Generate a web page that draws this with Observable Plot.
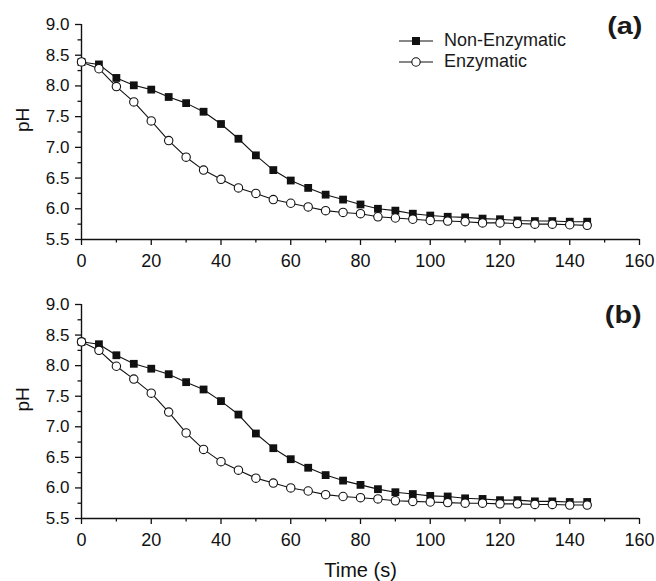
<!DOCTYPE html>
<html>
<head>
<meta charset="utf-8">
<script src="https://cdn.jsdelivr.net/npm/d3@7"></script>
<script src="https://cdn.jsdelivr.net/npm/@observablehq/plot@0.6"></script>
<style>
  body { margin: 0; background: #fff; }
  #wrap { position: relative; width: 656px; font-family: "Liberation Sans", Arial, sans-serif; color: #1a1a1a; }
  .panel { position: relative; }
  .panel svg { display: block; }
  .tag { position: absolute; font-weight: bold; font-size: 24px; right: 14px; transform: scaleX(1.2); transform-origin: right center; line-height: 1; }
  .legend { position: absolute; left: 399px; top: 30px; font-size: 18px; }
  .legend div { display: flex; align-items: center; height: 21px; }
  .legend svg { margin-right: 11px; }
</style>
</head>
<body>
<div id="wrap"></div>
<script>
const time = [0,5,10,15,20,25,30,35,40,45,50,55,60,65,70,75,80,85,90,95,100,105,110,115,120,125,130,135,140,145];

const phA_nonEnz = [8.39,8.35,8.13,8.01,7.94,7.82,7.72,7.58,7.38,7.14,6.87,6.63,6.46,6.34,6.23,
                    6.15,6.07,6.00,5.97,5.92,5.89,5.87,5.86,5.84,5.83,5.81,5.80,5.80,5.79,5.79];
const phA_enz    = [8.39,8.28,7.99,7.74,7.43,7.11,6.84,6.63,6.48,6.34,6.25,6.15,6.09,6.03,5.97,
                    5.94,5.92,5.87,5.85,5.83,5.81,5.80,5.79,5.77,5.77,5.76,5.75,5.75,5.74,5.73];
const phB_nonEnz = [8.39,8.35,8.17,8.03,7.95,7.86,7.73,7.61,7.42,7.20,6.89,6.65,6.47,6.33,6.21,
                    6.12,6.05,5.98,5.93,5.90,5.87,5.86,5.83,5.82,5.80,5.80,5.78,5.78,5.77,5.77];
const phB_enz    = [8.39,8.25,7.99,7.78,7.55,7.24,6.90,6.63,6.43,6.29,6.16,6.08,6.00,5.95,5.89,
                    5.86,5.84,5.82,5.79,5.78,5.77,5.76,5.75,5.75,5.74,5.74,5.73,5.73,5.72,5.72];

const seriesNames = ["Non-Enzymatic", "Enzymatic"];
const panelTags = ["(a)", "(b)"];
const yLabel = "pH";
const xLabel = "Time (s)";
const yMajor = [5.5,6.0,6.5,7.0,7.5,8.0,8.5,9.0];
const yMinor = [5.75,6.25,6.75,7.25,7.75,8.25,8.75];
const xMajor = [0,20,40,60,80,100,120,140,160];
const xMinor = [10,30,50,70,90,110,130,150];

const INK = "#111";

function panel(nonEnz, enz, cfg) {
  const rows = time.map((t, i) => ({t, non: nonEnz[i], enz: enz[i]}));
  const marks = [
    Plot.axisY({ticks: yMajor, tickSize: 6, tickPadding: 6, tickFormat: d => d.toFixed(1),
                label: null, fontSize: 17, strokeWidth: 1.3}),
    Plot.axisY({ticks: yMinor, tickSize: 3.5, tickFormat: () => "", label: null, strokeWidth: 1.3}),
    Plot.axisX({ticks: xMajor, tickSize: 6, tickPadding: 9, tickFormat: d => String(d),
                label: null, fontSize: 18, strokeWidth: 1.3}),
    Plot.axisX({ticks: xMinor, tickSize: 3.5, tickFormat: () => "", label: null, strokeWidth: 1.3}),
    Plot.ruleX([0], {y1: 5.5, y2: 9.0, stroke: INK, strokeWidth: 1.4}),
    Plot.ruleY([5.5], {x1: 0, x2: 160, stroke: INK, strokeWidth: 1.4}),
    Plot.text([yLabel], {frameAnchor: "left", dx: -59, rotate: -90, fontSize: 19, fill: INK}),
    Plot.line(rows, {x: "t", y: "non", stroke: INK, strokeWidth: 1.1}),
    Plot.dot(rows, {x: "t", y: "non", symbol: "square", r: 4.4, fill: INK, stroke: "none"}),
    Plot.line(rows, {x: "t", y: "enz", stroke: INK, strokeWidth: 1.1}),
    Plot.dot(rows, {x: "t", y: "enz", symbol: "circle", r: 4.2, fill: "white", stroke: INK, strokeWidth: 1.1})
  ];
  if (cfg.showXLabel) {
    marks.push(Plot.text([xLabel], {frameAnchor: "bottom", dy: 52, fontSize: 20, fill: INK, lineAnchor: "middle"}));
  }
  return Plot.plot({
    width: 656,
    height: cfg.height,
    marginLeft: 81,
    marginRight: 17,
    marginTop: cfg.marginTop,
    marginBottom: cfg.marginBottom,
    style: {fontFamily: "'Liberation Sans', Arial, sans-serif", fontSize: "17px", color: INK, background: "white"},
    x: {domain: [0, 160]},
    y: {domain: [5.5, 9.0]},
    marks
  });
}

const wrap = document.getElementById("wrap");

function addPanel(chart, tag, tagTop, withLegend) {
  const div = document.createElement("div");
  div.className = "panel";
  div.appendChild(chart);
  const t = document.createElement("div");
  t.className = "tag";
  t.style.top = tagTop + "px";
  t.textContent = tag;
  div.appendChild(t);
  if (withLegend) {
    const lg = document.createElement("div");
    lg.className = "legend";
    lg.innerHTML =
      `<div><svg width="34" height="12"><line x1="0" x2="34" y1="6" y2="6" stroke="${INK}" stroke-width="1.1"/><rect x="13" y="2" width="8" height="8" fill="${INK}"/></svg><span>${seriesNames[0]}</span></div>` +
      `<div><svg width="34" height="12"><line x1="0" x2="34" y1="6" y2="6" stroke="${INK}" stroke-width="1.1"/><circle cx="17" cy="6" r="4.2" fill="white" stroke="${INK}" stroke-width="1.1"/></svg><span>${seriesNames[1]}</span></div>`;
    div.appendChild(lg);
  }
  wrap.appendChild(div);
}

addPanel(panel(phA_nonEnz, phA_enz, {height: 290, marginTop: 24, marginBottom: 51, showXLabel: false}), panelTags[0], 14, true);
addPanel(panel(phB_nonEnz, phB_enz, {height: 291, marginTop: 14, marginBottom: 63, showXLabel: true}), panelTags[1], 13, false);
</script>
</body>
</html>
